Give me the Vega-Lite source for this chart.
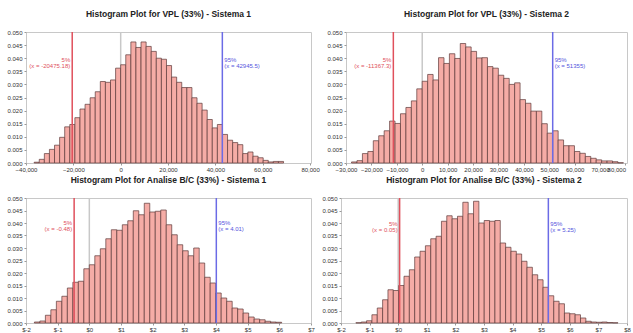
{
  "$schema": "https://vega.github.io/schema/vega-lite/v6.json",
  "padding": {"left": 6, "top": 9, "right": 2, "bottom": 0},
  "background": "white",
  "config": {
    "font": "Liberation Sans",
    "view": {"stroke": "#c8c8c8", "strokeWidth": 1},
    "axis": {"labelFontSize": 6, "labelColor": "#333333", "tickColor": "#999999", "tickSize": 2, "domain": false, "grid": false, "labelPadding": 2, "labelFlush": false, "labelOverlap": false, "title": null},
    "axisX": {"labelPadding": 1},
    "title": {"fontSize": 8.5, "fontWeight": "bold", "color": "#222222", "offset": 11, "anchor": "middle", "frame": "group"}
  },
  "datasets": {
    "vpl1": [
      {"x0": -36550, "x1": -34400, "p": 0.0003}, {"x0": -34400, "x1": -32250, "p": 0.0014}, {"x0": -32250, "x1": -30100, "p": 0.0036}, {"x0": -30100, "x1": -27950, "p": 0.0052}, {"x0": -27950, "x1": -25800, "p": 0.0068}, {"x0": -25800, "x1": -23650, "p": 0.0098}, {"x0": -23650, "x1": -21500, "p": 0.0138}, {"x0": -21500, "x1": -19350, "p": 0.0147}, {"x0": -19350, "x1": -17200, "p": 0.0173}, {"x0": -17200, "x1": -15050, "p": 0.0206}, {"x0": -15050, "x1": -12900, "p": 0.0224}, {"x0": -12900, "x1": -10750, "p": 0.0249}, {"x0": -10750, "x1": -8600, "p": 0.0272}, {"x0": -8600, "x1": -6450, "p": 0.0311}, {"x0": -6450, "x1": -4300, "p": 0.0308}, {"x0": -4300, "x1": -2150, "p": 0.0317}, {"x0": -2150, "x1": 0, "p": 0.0362},
      {"x0": 0, "x1": 2150, "p": 0.0375}, {"x0": 2150, "x1": 4300, "p": 0.0413}, {"x0": 4300, "x1": 6450, "p": 0.0462}, {"x0": 6450, "x1": 8600, "p": 0.0441}, {"x0": 8600, "x1": 10750, "p": 0.0462}, {"x0": 10750, "x1": 12900, "p": 0.0445}, {"x0": 12900, "x1": 15050, "p": 0.0426}, {"x0": 15050, "x1": 17200, "p": 0.0400}, {"x0": 17200, "x1": 19350, "p": 0.0396}, {"x0": 19350, "x1": 21500, "p": 0.0372}, {"x0": 21500, "x1": 23650, "p": 0.0328}, {"x0": 23650, "x1": 25800, "p": 0.0308}, {"x0": 25800, "x1": 27950, "p": 0.0288}, {"x0": 27950, "x1": 30100, "p": 0.0288}, {"x0": 30100, "x1": 32250, "p": 0.0249}, {"x0": 32250, "x1": 34400, "p": 0.0228}, {"x0": 34400, "x1": 36550, "p": 0.0202}, {"x0": 36550, "x1": 38700, "p": 0.0166}, {"x0": 38700, "x1": 40850, "p": 0.0134}, {"x0": 40850, "x1": 43000, "p": 0.0147}, {"x0": 43000, "x1": 45150, "p": 0.0109}, {"x0": 45150, "x1": 47300, "p": 0.0087}, {"x0": 47300, "x1": 49450, "p": 0.0078}, {"x0": 49450, "x1": 51600, "p": 0.0070}, {"x0": 51600, "x1": 53750, "p": 0.0036}, {"x0": 53750, "x1": 55900, "p": 0.0042}, {"x0": 55900, "x1": 58050, "p": 0.0026}, {"x0": 58050, "x1": 60200, "p": 0.0020}, {"x0": 60200, "x1": 62350, "p": 0.0010}, {"x0": 62350, "x1": 64500, "p": 0.0004}, {"x0": 64500, "x1": 66650, "p": 0.0006}, {"x0": 66650, "x1": 68800, "p": 0.0006}
    ],
    "vpl2": [
      {"x0": -27820, "x1": -25680, "p": 0.0004}, {"x0": -25680, "x1": -23540, "p": 0.0009}, {"x0": -23540, "x1": -21400, "p": 0.0036}, {"x0": -21400, "x1": -19260, "p": 0.0044}, {"x0": -19260, "x1": -17120, "p": 0.0085}, {"x0": -17120, "x1": -14980, "p": 0.0104}, {"x0": -14980, "x1": -12840, "p": 0.0123}, {"x0": -12840, "x1": -10700, "p": 0.0160}, {"x0": -10700, "x1": -8560, "p": 0.0151}, {"x0": -8560, "x1": -6420, "p": 0.0188}, {"x0": -6420, "x1": -4280, "p": 0.0212}, {"x0": -4280, "x1": -2140, "p": 0.0237}, {"x0": -2140, "x1": 0, "p": 0.0283},
      {"x0": 0, "x1": 2140, "p": 0.0312}, {"x0": 2140, "x1": 4280, "p": 0.0338}, {"x0": 4280, "x1": 6420, "p": 0.0317}, {"x0": 6420, "x1": 8560, "p": 0.0402}, {"x0": 8560, "x1": 10700, "p": 0.0380}, {"x0": 10700, "x1": 12840, "p": 0.0417}, {"x0": 12840, "x1": 14980, "p": 0.0399}, {"x0": 14980, "x1": 17120, "p": 0.0456}, {"x0": 17120, "x1": 19260, "p": 0.0443}, {"x0": 19260, "x1": 21400, "p": 0.0426}, {"x0": 21400, "x1": 23540, "p": 0.0401}, {"x0": 23540, "x1": 25680, "p": 0.0402}, {"x0": 25680, "x1": 27820, "p": 0.0368}, {"x0": 27820, "x1": 29960, "p": 0.0362}, {"x0": 29960, "x1": 32100, "p": 0.0335}, {"x0": 32100, "x1": 34240, "p": 0.0323}, {"x0": 34240, "x1": 36380, "p": 0.0300}, {"x0": 36380, "x1": 38520, "p": 0.0306}, {"x0": 38520, "x1": 40660, "p": 0.0242}, {"x0": 40660, "x1": 42800, "p": 0.0228}, {"x0": 42800, "x1": 44940, "p": 0.0198}, {"x0": 44940, "x1": 47080, "p": 0.0198}, {"x0": 47080, "x1": 49220, "p": 0.0150}, {"x0": 49220, "x1": 51360, "p": 0.0114}, {"x0": 51360, "x1": 53500, "p": 0.0123}, {"x0": 53500, "x1": 55640, "p": 0.0088}, {"x0": 55640, "x1": 57780, "p": 0.0066}, {"x0": 57780, "x1": 59920, "p": 0.0066}, {"x0": 59920, "x1": 62060, "p": 0.0044}, {"x0": 62060, "x1": 64200, "p": 0.0037}, {"x0": 64200, "x1": 66340, "p": 0.0025}, {"x0": 66340, "x1": 68480, "p": 0.0018}, {"x0": 68480, "x1": 70620, "p": 0.0012}, {"x0": 70620, "x1": 72760, "p": 0.0008}, {"x0": 72760, "x1": 74900, "p": 0.0008}, {"x0": 74900, "x1": 77040, "p": 0.0005}, {"x0": 77040, "x1": 79180, "p": 0.0001}
    ],
    "bc1": [
      {"x0": -1.735, "x1": -1.5615, "p": 0.0004}, {"x0": -1.5615, "x1": -1.388, "p": 0.0008}, {"x0": -1.388, "x1": -1.2145, "p": 0.0031}, {"x0": -1.2145, "x1": -1.041, "p": 0.0053}, {"x0": -1.041, "x1": -0.8675, "p": 0.0087}, {"x0": -0.8675, "x1": -0.694, "p": 0.0107}, {"x0": -0.694, "x1": -0.5205, "p": 0.0140}, {"x0": -0.5205, "x1": -0.347, "p": 0.0163}, {"x0": -0.347, "x1": -0.1735, "p": 0.0167}, {"x0": -0.1735, "x1": 0, "p": 0.0217},
      {"x0": 0, "x1": 0.1735, "p": 0.0233}, {"x0": 0.1735, "x1": 0.347, "p": 0.0269}, {"x0": 0.347, "x1": 0.5205, "p": 0.0297}, {"x0": 0.5205, "x1": 0.694, "p": 0.0337}, {"x0": 0.694, "x1": 0.8675, "p": 0.0373}, {"x0": 0.8675, "x1": 1.041, "p": 0.0371}, {"x0": 1.041, "x1": 1.2145, "p": 0.0393}, {"x0": 1.2145, "x1": 1.388, "p": 0.0409}, {"x0": 1.388, "x1": 1.5615, "p": 0.0449}, {"x0": 1.5615, "x1": 1.735, "p": 0.0433}, {"x0": 1.735, "x1": 1.9085, "p": 0.0479}, {"x0": 1.9085, "x1": 2.082, "p": 0.0444}, {"x0": 2.082, "x1": 2.2555, "p": 0.0447}, {"x0": 2.2555, "x1": 2.429, "p": 0.0452}, {"x0": 2.429, "x1": 2.6025, "p": 0.0393}, {"x0": 2.6025, "x1": 2.776, "p": 0.0353}, {"x0": 2.776, "x1": 2.9495, "p": 0.0313}, {"x0": 2.9495, "x1": 3.123, "p": 0.0289}, {"x0": 3.123, "x1": 3.2965, "p": 0.0269}, {"x0": 3.2965, "x1": 3.47, "p": 0.0300}, {"x0": 3.47, "x1": 3.6435, "p": 0.0240}, {"x0": 3.6435, "x1": 3.817, "p": 0.0183}, {"x0": 3.817, "x1": 3.9905, "p": 0.0160}, {"x0": 3.9905, "x1": 4.164, "p": 0.0120}, {"x0": 4.164, "x1": 4.3375, "p": 0.0100}, {"x0": 4.3375, "x1": 4.511, "p": 0.0087}, {"x0": 4.511, "x1": 4.6845, "p": 0.0060}, {"x0": 4.6845, "x1": 4.858, "p": 0.0056}, {"x0": 4.858, "x1": 5.0315, "p": 0.0040}, {"x0": 5.0315, "x1": 5.205, "p": 0.0024}, {"x0": 5.205, "x1": 5.3785, "p": 0.0016}, {"x0": 5.3785, "x1": 5.552, "p": 0.0013}, {"x0": 5.552, "x1": 5.7255, "p": 0.0007}, {"x0": 5.7255, "x1": 5.899, "p": 0.0004}, {"x0": 5.899, "x1": 6.0725, "p": 0.0003}
    ],
    "bc2": [
      {"x0": -1.48, "x1": -1.293, "p": 0.0001}, {"x0": -1.293, "x1": -1.106, "p": 0.0004}, {"x0": -1.106, "x1": -0.919, "p": 0.0009}, {"x0": -0.919, "x1": -0.732, "p": 0.0033}, {"x0": -0.732, "x1": -0.545, "p": 0.0060}, {"x0": -0.545, "x1": -0.358, "p": 0.0093}, {"x0": -0.358, "x1": -0.171, "p": 0.0133}, {"x0": -0.171, "x1": 0.016, "p": 0.0130}, {"x0": 0.016, "x1": 0.203, "p": 0.0150}, {"x0": 0.203, "x1": 0.39, "p": 0.0187}, {"x0": 0.39, "x1": 0.577, "p": 0.0213}, {"x0": 0.577, "x1": 0.764, "p": 0.0264}, {"x0": 0.764, "x1": 0.951, "p": 0.0287}, {"x0": 0.951, "x1": 1.138, "p": 0.0309}, {"x0": 1.138, "x1": 1.325, "p": 0.0337}, {"x0": 1.325, "x1": 1.512, "p": 0.0347}, {"x0": 1.512, "x1": 1.699, "p": 0.0407}, {"x0": 1.699, "x1": 1.886, "p": 0.0429}, {"x0": 1.886, "x1": 2.073, "p": 0.0417}, {"x0": 2.073, "x1": 2.26, "p": 0.0427}, {"x0": 2.26, "x1": 2.447, "p": 0.0483}, {"x0": 2.447, "x1": 2.634, "p": 0.0437}, {"x0": 2.634, "x1": 2.821, "p": 0.0487}, {"x0": 2.821, "x1": 3.008, "p": 0.0400}, {"x0": 3.008, "x1": 3.195, "p": 0.0410}, {"x0": 3.195, "x1": 3.382, "p": 0.0407}, {"x0": 3.382, "x1": 3.569, "p": 0.0410}, {"x0": 3.569, "x1": 3.756, "p": 0.0320}, {"x0": 3.756, "x1": 3.943, "p": 0.0303}, {"x0": 3.943, "x1": 4.13, "p": 0.0287}, {"x0": 4.13, "x1": 4.317, "p": 0.0276}, {"x0": 4.317, "x1": 4.504, "p": 0.0247}, {"x0": 4.504, "x1": 4.691, "p": 0.0223}, {"x0": 4.691, "x1": 4.878, "p": 0.0193}, {"x0": 4.878, "x1": 5.065, "p": 0.0173}, {"x0": 5.065, "x1": 5.252, "p": 0.0143}, {"x0": 5.252, "x1": 5.439, "p": 0.0109}, {"x0": 5.439, "x1": 5.626, "p": 0.0087}, {"x0": 5.626, "x1": 5.813, "p": 0.0077}, {"x0": 5.813, "x1": 6.0, "p": 0.0040}, {"x0": 6.0, "x1": 6.187, "p": 0.0037}, {"x0": 6.187, "x1": 6.374, "p": 0.0033}, {"x0": 6.374, "x1": 6.561, "p": 0.0020}, {"x0": 6.561, "x1": 6.748, "p": 0.0007}, {"x0": 6.748, "x1": 6.935, "p": 0.0004}, {"x0": 6.935, "x1": 7.122, "p": 0.0003}, {"x0": 7.122, "x1": 7.309, "p": 0.0004}, {"x0": 7.309, "x1": 7.496, "p": 0.0002}, {"x0": 7.496, "x1": 7.683, "p": 0.0001}
    ],
    "one": [{"k": 1}]
  },
  "vconcat": [
    {
      "hconcat": [
        {
          "width": 285, "height": 131,
          "title": "Histogram Plot for VPL (33%) - Sistema 1",
          "layer": [
            {"data": {"name": "one"}, "mark": {"type": "rule", "color": "#c8c8c8", "strokeWidth": 1.5}, "encoding": {"x": {"datum": 0, "type": "quantitative"}}},
            {"data": {"name": "vpl1"}, "mark": {"type": "bar", "fill": "#f5aca6", "stroke": "#5b3a3a", "strokeWidth": 0.7},
             "encoding": {
               "x": {"field": "x0", "type": "quantitative", "scale": {"domain": [-40000, 80400], "nice": false, "zero": false}, "axis": {"values": [-40000, -20000, 0, 20000, 40000, 60000, 80000], "format": ",.0f", "labelOverlap": false, "tickCount": 30}},
               "x2": {"field": "x1"},
               "y": {"field": "p", "type": "quantitative", "scale": {"domain": [0, 0.05], "nice": false}, "axis": {"values": [0, 0.005, 0.01, 0.015, 0.02, 0.025, 0.03, 0.035, 0.04, 0.045, 0.05], "format": ".3f", "labelOverlap": false, "tickCount": 30}},
               "y2": {"datum": 0}
             }},
            {"data": {"name": "one"}, "mark": {"type": "rule", "color": "#e0505c", "strokeWidth": 1.5}, "encoding": {"x": {"datum": -20475.18, "type": "quantitative"}}},
            {"data": {"name": "one"}, "mark": {"type": "rule", "color": "#6b6be6", "strokeWidth": 1.5}, "encoding": {"x": {"datum": 42945.5, "type": "quantitative"}}},
            {"data": {"name": "one"}, "mark": {"type": "text", "fontSize": 6, "color": "#e0505c", "align": "right", "dx": -2, "baseline": "middle"}, "encoding": {"x": {"datum": -20475.18, "type": "quantitative"}, "y": {"datum": 0.0394, "type": "quantitative"}, "text": {"value": "5%"}}},
            {"data": {"name": "one"}, "mark": {"type": "text", "fontSize": 6, "color": "#e0505c", "align": "right", "dx": -2, "baseline": "middle"}, "encoding": {"x": {"datum": -20475.18, "type": "quantitative"}, "y": {"datum": 0.0372, "type": "quantitative"}, "text": {"value": "(x = -20475.18)"}}},
            {"data": {"name": "one"}, "mark": {"type": "text", "fontSize": 6, "color": "#5555dd", "align": "left", "dx": 2, "baseline": "middle"}, "encoding": {"x": {"datum": 42945.5, "type": "quantitative"}, "y": {"datum": 0.0394, "type": "quantitative"}, "text": {"value": "95%"}}},
            {"data": {"name": "one"}, "mark": {"type": "text", "fontSize": 6, "color": "#5555dd", "align": "left", "dx": 2, "baseline": "middle"}, "encoding": {"x": {"datum": 42945.5, "type": "quantitative"}, "y": {"datum": 0.0372, "type": "quantitative"}, "text": {"value": "(x = 42945.5)"}}}
          ]
        },
        {
          "width": 281, "height": 131,
          "title": "Histogram Plot for VPL (33%) - Sistema 2",
          "layer": [
            {"data": {"name": "one"}, "mark": {"type": "rule", "color": "#c8c8c8", "strokeWidth": 1.5}, "encoding": {"x": {"datum": 0, "type": "quantitative"}}},
            {"data": {"name": "vpl2"}, "mark": {"type": "bar", "fill": "#f5aca6", "stroke": "#5b3a3a", "strokeWidth": 0.7},
             "encoding": {
               "x": {"field": "x0", "type": "quantitative", "scale": {"domain": [-30000, 80600], "nice": false, "zero": false}, "axis": {"values": [-30000, -20000, -10000, 0, 10000, 20000, 30000, 40000, 50000, 60000, 70000, 80000], "format": ",.0f", "labelOverlap": false, "tickCount": 30, "labelAlign": {"expr": "datum.value >= 80000 ? 'right' : 'center'"}}},
               "x2": {"field": "x1"},
               "y": {"field": "p", "type": "quantitative", "scale": {"domain": [0, 0.05], "nice": false}, "axis": {"values": [0, 0.005, 0.01, 0.015, 0.02, 0.025, 0.03, 0.035, 0.04, 0.045, 0.05], "format": ".3f", "labelOverlap": false, "tickCount": 30}},
               "y2": {"datum": 0}
             }},
            {"data": {"name": "one"}, "mark": {"type": "rule", "color": "#e0505c", "strokeWidth": 1.5}, "encoding": {"x": {"datum": -11367.3, "type": "quantitative"}}},
            {"data": {"name": "one"}, "mark": {"type": "rule", "color": "#6b6be6", "strokeWidth": 1.5}, "encoding": {"x": {"datum": 51355, "type": "quantitative"}}},
            {"data": {"name": "one"}, "mark": {"type": "text", "fontSize": 6, "color": "#e0505c", "align": "right", "dx": -2, "baseline": "middle"}, "encoding": {"x": {"datum": -11367.3, "type": "quantitative"}, "y": {"datum": 0.0394, "type": "quantitative"}, "text": {"value": "5%"}}},
            {"data": {"name": "one"}, "mark": {"type": "text", "fontSize": 6, "color": "#e0505c", "align": "right", "dx": -2, "baseline": "middle"}, "encoding": {"x": {"datum": -11367.3, "type": "quantitative"}, "y": {"datum": 0.0371, "type": "quantitative"}, "text": {"value": "(x = -11367.3)"}}},
            {"data": {"name": "one"}, "mark": {"type": "text", "fontSize": 6, "color": "#5555dd", "align": "left", "dx": 2, "baseline": "middle"}, "encoding": {"x": {"datum": 51355, "type": "quantitative"}, "y": {"datum": 0.0394, "type": "quantitative"}, "text": {"value": "95%"}}},
            {"data": {"name": "one"}, "mark": {"type": "text", "fontSize": 6, "color": "#5555dd", "align": "left", "dx": 2, "baseline": "middle"}, "encoding": {"x": {"datum": 51355, "type": "quantitative"}, "y": {"datum": 0.0371, "type": "quantitative"}, "text": {"value": "(x = 51355)"}}}
          ]
        }
      ],
      "spacing": 6
    },
    {
      "hconcat": [
        {
          "width": 285, "height": 125,
          "title": "Histogram Plot for Analise B/C (33%) - Sistema 1",
          "layer": [
            {"data": {"name": "one"}, "mark": {"type": "rule", "color": "#c8c8c8", "strokeWidth": 1.5}, "encoding": {"x": {"datum": 0, "type": "quantitative"}}},
            {"data": {"name": "bc1"}, "mark": {"type": "bar", "fill": "#f5aca6", "stroke": "#5b3a3a", "strokeWidth": 0.7},
             "encoding": {
               "x": {"field": "x0", "type": "quantitative", "scale": {"domain": [-2, 7], "nice": false, "zero": false}, "axis": {"values": [-2, -1, 0, 1, 2, 3, 4, 5, 6, 7], "labelExpr": "'$' + datum.value", "labelOverlap": false, "tickCount": 30}},
               "x2": {"field": "x1"},
               "y": {"field": "p", "type": "quantitative", "scale": {"domain": [0, 0.05], "nice": false}, "axis": {"values": [0, 0.005, 0.01, 0.015, 0.02, 0.025, 0.03, 0.035, 0.04, 0.045, 0.05], "format": ".3f", "labelOverlap": false, "tickCount": 30}},
               "y2": {"datum": 0}
             }},
            {"data": {"name": "one"}, "mark": {"type": "rule", "color": "#e0505c", "strokeWidth": 1.5}, "encoding": {"x": {"datum": -0.48, "type": "quantitative"}}},
            {"data": {"name": "one"}, "mark": {"type": "rule", "color": "#6b6be6", "strokeWidth": 1.5}, "encoding": {"x": {"datum": 4.01, "type": "quantitative"}}},
            {"data": {"name": "one"}, "mark": {"type": "text", "fontSize": 6, "color": "#e0505c", "align": "right", "dx": -2, "baseline": "middle"}, "encoding": {"x": {"datum": -0.48, "type": "quantitative"}, "y": {"datum": 0.0400, "type": "quantitative"}, "text": {"value": "5%"}}},
            {"data": {"name": "one"}, "mark": {"type": "text", "fontSize": 6, "color": "#e0505c", "align": "right", "dx": -2, "baseline": "middle"}, "encoding": {"x": {"datum": -0.48, "type": "quantitative"}, "y": {"datum": 0.0378, "type": "quantitative"}, "text": {"value": "(x = -0.48)"}}},
            {"data": {"name": "one"}, "mark": {"type": "text", "fontSize": 6, "color": "#5555dd", "align": "left", "dx": 2, "baseline": "middle"}, "encoding": {"x": {"datum": 4.01, "type": "quantitative"}, "y": {"datum": 0.0400, "type": "quantitative"}, "text": {"value": "95%"}}},
            {"data": {"name": "one"}, "mark": {"type": "text", "fontSize": 6, "color": "#5555dd", "align": "left", "dx": 2, "baseline": "middle"}, "encoding": {"x": {"datum": 4.01, "type": "quantitative"}, "y": {"datum": 0.0378, "type": "quantitative"}, "text": {"value": "(x = 4.01)"}}}
          ]
        },
        {
          "width": 286, "height": 125,
          "title": "Histogram Plot for Analise B/C (33%) - Sistema 2",
          "layer": [
            {"data": {"name": "one"}, "mark": {"type": "rule", "color": "#c8c8c8", "strokeWidth": 1.5}, "encoding": {"x": {"datum": 0, "type": "quantitative"}}},
            {"data": {"name": "bc2"}, "mark": {"type": "bar", "fill": "#f5aca6", "stroke": "#5b3a3a", "strokeWidth": 0.7},
             "encoding": {
               "x": {"field": "x0", "type": "quantitative", "scale": {"domain": [-2, 8], "nice": false, "zero": false}, "axis": {"values": [-2, -1, 0, 1, 2, 3, 4, 5, 6, 7, 8], "labelExpr": "'$' + datum.value", "labelOverlap": false, "tickCount": 30}},
               "x2": {"field": "x1"},
               "y": {"field": "p", "type": "quantitative", "scale": {"domain": [0, 0.05], "nice": false}, "axis": {"values": [0, 0.005, 0.01, 0.015, 0.02, 0.025, 0.03, 0.035, 0.04, 0.045, 0.05], "format": ".3f", "labelOverlap": false, "tickCount": 30}},
               "y2": {"datum": 0}
             }},
            {"data": {"name": "one"}, "mark": {"type": "rule", "color": "#e0505c", "strokeWidth": 1.5}, "encoding": {"x": {"datum": 0.05, "type": "quantitative"}}},
            {"data": {"name": "one"}, "mark": {"type": "rule", "color": "#6b6be6", "strokeWidth": 1.5}, "encoding": {"x": {"datum": 5.25, "type": "quantitative"}}},
            {"data": {"name": "one"}, "mark": {"type": "text", "fontSize": 6, "color": "#e0505c", "align": "right", "dx": -2, "baseline": "middle"}, "encoding": {"x": {"datum": 0.05, "type": "quantitative"}, "y": {"datum": 0.0397, "type": "quantitative"}, "text": {"value": "5%"}}},
            {"data": {"name": "one"}, "mark": {"type": "text", "fontSize": 6, "color": "#e0505c", "align": "right", "dx": -2, "baseline": "middle"}, "encoding": {"x": {"datum": 0.05, "type": "quantitative"}, "y": {"datum": 0.0372, "type": "quantitative"}, "text": {"value": "(x = 0.05)"}}},
            {"data": {"name": "one"}, "mark": {"type": "text", "fontSize": 6, "color": "#5555dd", "align": "left", "dx": 2, "baseline": "middle"}, "encoding": {"x": {"datum": 5.25, "type": "quantitative"}, "y": {"datum": 0.0397, "type": "quantitative"}, "text": {"value": "95%"}}},
            {"data": {"name": "one"}, "mark": {"type": "text", "fontSize": 6, "color": "#5555dd", "align": "left", "dx": 2, "baseline": "middle"}, "encoding": {"x": {"datum": 5.25, "type": "quantitative"}, "y": {"datum": 0.0372, "type": "quantitative"}, "text": {"value": "(x = 5.25)"}}}
          ]
        }
      ],
      "spacing": 6
    }
  ],
  "spacing": 2
}
